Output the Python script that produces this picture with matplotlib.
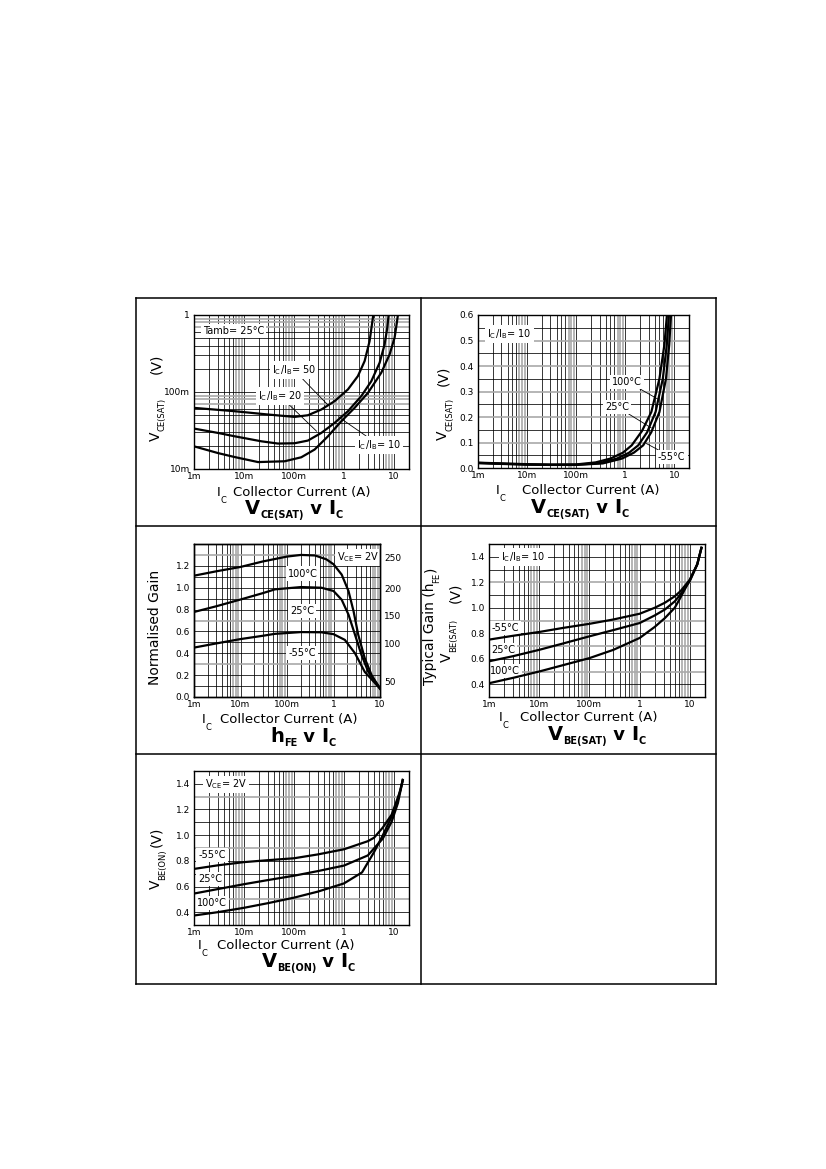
import matplotlib
matplotlib.use('Agg')
import matplotlib.pyplot as plt
from matplotlib.lines import Line2D
from matplotlib.ticker import NullLocator

# ---- data ----
# VCE(SAT) v IC, log-log, Tamb = 25C
vsat50_ic = [0.001, 0.0065, 0.0302, 0.103, 0.19, 0.352, 0.65, 1.2, 1.9, 2.59, 3.26, 3.63, 3.86]
vsat50_v = [0.0622, 0.0563, 0.051, 0.0475, 0.0499, 0.0592, 0.076, 0.108, 0.161, 0.252, 0.459, 0.756, 1.0]
vsat20_ic = [0.001, 0.00302, 0.0065, 0.0222, 0.0479, 0.103, 0.19, 0.352, 0.65, 1.2, 2.22, 3.52, 5.17, 6.5, 7.36, 7.82]
vsat20_v = [0.0335, 0.0294, 0.0266, 0.0229, 0.0214, 0.0216, 0.0234, 0.0294, 0.0397, 0.0563, 0.0883, 0.138, 0.24, 0.415, 0.684, 1.0]
vsat10_ic = [0.001, 0.00302, 0.0065, 0.0191, 0.065, 0.14, 0.259, 0.479, 0.885, 1.63, 3.02, 5.58, 8.19, 10.3, 11.3, 12.0]
vsat10_v = [0.0197, 0.0161, 0.0143, 0.0123, 0.0126, 0.0142, 0.0179, 0.0266, 0.0417, 0.0622, 0.0975, 0.178, 0.308, 0.507, 0.756, 1.0]

# VCE(SAT) v IC, linear, IC/IB = 10
vt100_ic = [0.001, 0.003, 0.01, 0.03, 0.1, 0.25, 0.5, 0.9, 1.36, 2.2, 3.42, 5.0, 6.3, 7.1]
vt100_v = [0.021, 0.018, 0.015, 0.013, 0.014, 0.022, 0.037, 0.06, 0.089, 0.145, 0.22, 0.351, 0.483, 0.6]
vt25_ic = [0.001, 0.003, 0.01, 0.03, 0.1, 0.3, 0.68, 1.2, 1.85, 2.8, 4.17, 5.86, 7.05, 7.8]
vt25_v = [0.02, 0.017, 0.014, 0.013, 0.013, 0.019, 0.037, 0.06, 0.089, 0.14, 0.22, 0.351, 0.483, 0.6]
vtm55_ic = [0.001, 0.003, 0.01, 0.03, 0.1, 0.35, 0.86, 1.5, 2.33, 3.4, 5.0, 6.8, 7.9, 8.6]
vtm55_v = [0.019, 0.016, 0.013, 0.012, 0.012, 0.018, 0.037, 0.06, 0.089, 0.14, 0.22, 0.351, 0.483, 0.6]

# hFE v IC (normalised gain)
h100_ic = [0.001, 0.003, 0.01, 0.03, 0.1, 0.2, 0.4, 0.7, 1.0, 1.5, 2.1, 2.7, 3.4, 4.7, 6.6, 10]
h100 = [1.11, 1.15, 1.19, 1.24, 1.285, 1.30, 1.295, 1.26, 1.215, 1.12, 0.97, 0.785, 0.57, 0.355, 0.2, 0.075]
h25_ic = [0.001, 0.003, 0.01, 0.03, 0.055, 0.2, 0.55, 1.0, 1.5, 2.1, 2.9, 4.0, 5.6, 10]
h25 = [0.778, 0.83, 0.892, 0.95, 0.985, 1.006, 1.0, 0.97, 0.89, 0.754, 0.57, 0.385, 0.23, 0.083]
hm55_ic = [0.001, 0.003, 0.01, 0.03, 0.055, 0.2, 0.55, 1.0, 1.75, 2.9, 4.7, 10]
hm55 = [0.452, 0.49, 0.53, 0.56, 0.578, 0.594, 0.592, 0.575, 0.523, 0.40, 0.23, 0.077]
hfe_labels = ['250', '200', '150', '100', '50']
hfe_at = [1.277, 0.994, 0.748, 0.492, 0.138]

# VBE(SAT) v IC
bs_ic = [0.001, 0.003, 0.01, 0.03, 0.1, 0.3, 1, 2, 3.2, 5, 6.5, 10, 14, 17]
bs_m55 = [0.75, 0.78, 0.81, 0.842, 0.874, 0.908, 0.953, 1.0, 1.04, 1.09, 1.13, 1.22, 1.34, 1.47]
bs_25 = [0.58, 0.62, 0.67, 0.72, 0.776, 0.825, 0.88, 0.94, 0.987, 1.05, 1.105, 1.21, 1.34, 1.47]
bs_100 = [0.408, 0.45, 0.50, 0.55, 0.605, 0.67, 0.763, 0.85, 0.92, 1.0, 1.08, 1.22, 1.34, 1.47]

# VBE(ON) v IC, VCE = 2V
on_m55_ic = [0.001, 0.003, 0.01, 0.03, 0.1, 0.3, 1, 3, 4, 6, 9, 13.5, 15]
on_m55 = [0.737, 0.765, 0.79, 0.805, 0.82, 0.85, 0.89, 0.953, 0.98, 1.06, 1.16, 1.35, 1.43]
on_25_ic = [0.001, 0.003, 0.01, 0.03, 0.1, 0.3, 1, 3, 6, 9, 12, 15]
on_25 = [0.545, 0.58, 0.618, 0.65, 0.684, 0.72, 0.763, 0.842, 0.974, 1.105, 1.25, 1.43]
on_100_ic = [0.001, 0.003, 0.01, 0.03, 0.1, 0.3, 1, 2.3, 4, 6, 9, 12, 15]
on_100 = [0.374, 0.40, 0.434, 0.47, 0.513, 0.56, 0.624, 0.71, 0.868, 1.0, 1.145, 1.28, 1.43]

dec_ticks = [0.001, 0.01, 0.1, 1, 10]
dec_labels = ['1m', '10m', '100m', '1', '10']

W, H = 826, 1169
GRAY = '#a9a9a9'
fig = plt.figure(figsize=(W / 100, H / 100), dpi=100)
rend = fig.canvas.get_renderer()


def fx(px):
    return px / W


def fy(py):
    return 1 - py / H


def new_axes(l, t, r, b):
    return fig.add_axes([l / W, 1 - b / H, (r - l) / W, (b - t) / H])


def log_lines(ax, lo, hi, axis='x'):
    for e in range(-3, 2):
        for m in range(1, 10):
            v = m * 10.0 ** e
            if lo < v < hi:
                light = m >= 7
                kw = dict(color=GRAY if light else 'black', lw=1.2 if light else 0.55, zorder=1)
                if axis == 'x':
                    ax.axvline(v, **kw)
                else:
                    ax.axhline(v, **kw)


def lin_lines(ax, vals, grays):
    for v in vals:
        light = any(abs(v - g) < 1e-6 for g in grays)
        ax.axhline(v, color=GRAY if light else 'black', lw=1.2 if light else 0.55, zorder=1)


def style(ax, xlim):
    ax.set_xscale('log')
    ax.set_xlim(xlim)
    ax.set_xticks(dec_ticks)
    ax.set_xticklabels(dec_labels)
    ax.xaxis.set_minor_locator(NullLocator())
    ax.tick_params(length=0, labelsize=6.5, pad=2)
    ax.tick_params(axis='y', pad=3)
    for s in ax.spines.values():
        s.set_linewidth(1.0)
        s.set_zorder(5)
    log_lines(ax, xlim[0], xlim[1], 'x')


def tag(ax, x, y, s, xy=None):
    box = dict(fc='white', ec='none', pad=1.5)
    if xy is None:
        ax.text(x, y, s, fontsize=7, ha='left', va='center', zorder=2.5, bbox=box)
    else:
        ax.annotate(s, xy=xy, xytext=(x, y), fontsize=7, ha='left', va='center', zorder=2.5,
                    bbox=box, arrowprops=dict(arrowstyle='-', lw=0.6, color='black',
                                              shrinkA=0, shrinkB=0))


def chain(px, py, parts, rot=False, weight='normal'):
    for s, size, off in parts:
        if rot:
            t = fig.text(fx(px + off), fy(py), s, fontsize=size, weight=weight, rotation=90,
                         rotation_mode='anchor', ha='left', va='baseline')
            py -= t.get_window_extent(rend).height
        else:
            t = fig.text(fx(px), fy(py + off), s, fontsize=size, weight=weight,
                         ha='left', va='baseline')
            px += t.get_window_extent(rend).width


def xlab(ipx, cpx, py):
    chain(ipx, py, [('I', 9.5, 0), ('C', 6, 7)])
    fig.text(fx(cpx), fy(py), 'Collector Current (A)', fontsize=9.5, ha='left', va='baseline')


def title(px, py, big, sub):
    chain(px, py, [(big, 14, 0), (sub, 7, 4), (' v ', 13, 0), ('I', 14, 0), ('C', 7, 4)],
          weight='bold')


curve = dict(color='black', lw=1.6, zorder=3)

# ---- panel 1 ----
ax1 = new_axes(194, 315, 409, 469)
style(ax1, (0.001, 20))
ax1.set_yscale('log')
ax1.set_ylim(0.01, 1)
ax1.set_yticks([0.01, 0.1, 1])
ax1.set_yticklabels(['10m', '100m', '1'])
ax1.yaxis.set_minor_locator(NullLocator())
log_lines(ax1, 0.01, 1, 'y')
ax1.plot(vsat50_ic, vsat50_v, **curve)
ax1.plot(vsat20_ic, vsat20_v, **curve)
ax1.plot(vsat10_ic, vsat10_v, **curve)
tag(ax1, 0.0015, 0.62, 'Tamb= 25°C')
tag(ax1, 0.036, 0.193, r'I$_\mathregular{C}$/I$_\mathregular{B}$= 50', xy=(0.485, 0.0672))
tag(ax1, 0.019, 0.0887, r'I$_\mathregular{C}$/I$_\mathregular{B}$= 20', xy=(0.284, 0.0309))
tag(ax1, 1.82, 0.0205, r'I$_\mathregular{C}$/I$_\mathregular{B}$= 10', xy=(0.77, 0.0477))

# ---- panel 2 ----
ax2 = new_axes(478, 315, 689, 468)
style(ax2, (0.001, 20))
ax2.set_ylim(0, 0.6)
ax2.set_yticks([0, 0.1, 0.2, 0.3, 0.4, 0.5, 0.6])
ax2.set_yticklabels(['0.0', '0.1', '0.2', '0.3', '0.4', '0.5', '0.6'])
lin_lines(ax2, [0.05, 0.1, 0.15, 0.2, 0.25, 0.3, 0.35, 0.4, 0.45, 0.5, 0.55],
          [0.1, 0.2, 0.3, 0.4, 0.5])
ax2.plot(vt100_ic, vt100_v, **curve)
ax2.plot(vt25_ic, vt25_v, **curve)
ax2.plot(vtm55_ic, vtm55_v, **curve)
tag(ax2, 0.00156, 0.524, r'I$_\mathregular{C}$/I$_\mathregular{B}$= 10')
tag(ax2, 0.54, 0.339, '100°C', xy=(4.66, 0.27))
tag(ax2, 0.39, 0.24, '25°C', xy=(3.42, 0.157))
tag(ax2, 4.66, 0.043, '-55°C', xy=(2.7, 0.096))

# ---- panel 3 ----
ax3 = new_axes(194, 544, 380, 697)
style(ax3, (0.001, 10))
ax3.set_ylim(0, 1.4)
ax3.set_yticks([0, 0.2, 0.4, 0.6, 0.8, 1.0, 1.2])
ax3.set_yticklabels(['0.0', '0.2', '0.4', '0.6', '0.8', '1.0', '1.2'])
lin_lines(ax3, [0.1, 0.2, 0.3, 0.4, 0.5, 0.6, 0.7, 0.8, 0.9, 1.0, 1.1, 1.2, 1.3],
          [0.3, 0.7, 1.3])
ax3.plot(h100_ic, h100, **curve)
ax3.plot(h25_ic, h25, **curve)
ax3.plot(hm55_ic, hm55, **curve)
tag(ax3, 1.17, 1.277, r'V$_\mathregular{CE}$= 2V')
tag(ax3, 0.107, 1.13, '100°C')
tag(ax3, 0.116, 0.79, '25°C')
tag(ax3, 0.107, 0.40, '-55°C')
ax3r = ax3.twinx()
ax3r.set_ylim(0, 1.4)
ax3r.set_yticks(hfe_at)
ax3r.set_yticklabels(hfe_labels)
ax3r.tick_params(length=0, labelsize=6.5, pad=3)
for s in ax3r.spines.values():
    s.set_linewidth(1.0)

# ---- panel 4 ----
ax4 = new_axes(489, 544, 705, 697)
style(ax4, (0.001, 20))
ax4.set_ylim(0.3, 1.5)
ax4.set_yticks([0.4, 0.6, 0.8, 1.0, 1.2, 1.4])
ax4.set_yticklabels(['0.4', '0.6', '0.8', '1.0', '1.2', '1.4'])
lin_lines(ax4, [0.4, 0.5, 0.6, 0.7, 0.8, 0.9, 1.0, 1.1, 1.2, 1.3, 1.4], [0.5, 0.7, 0.9, 1.2])
ax4.plot(bs_ic, bs_m55, **curve)
ax4.plot(bs_ic, bs_25, **curve)
ax4.plot(bs_ic, bs_100, **curve)
tag(ax4, 0.00177, 1.395, r'I$_\mathregular{C}$/I$_\mathregular{B}$= 10')
tag(ax4, 0.00111, 0.842, '-55°C')
tag(ax4, 0.00111, 0.671, '25°C')
tag(ax4, 0.00105, 0.505, '100°C')

# ---- panel 5 ----
ax5 = new_axes(194, 771, 409, 925)
style(ax5, (0.001, 20))
ax5.set_ylim(0.3, 1.5)
ax5.set_yticks([0.4, 0.6, 0.8, 1.0, 1.2, 1.4])
ax5.set_yticklabels(['0.4', '0.6', '0.8', '1.0', '1.2', '1.4'])
lin_lines(ax5, [0.4, 0.5, 0.6, 0.7, 0.8, 0.9, 1.0, 1.1, 1.2, 1.3, 1.4], [0.5, 0.9, 1.3])
ax5.plot(on_m55_ic, on_m55, **curve)
ax5.plot(on_25_ic, on_25, **curve)
ax5.plot(on_100_ic, on_100, **curve)
tag(ax5, 0.00166, 1.395, r'V$_\mathregular{CE}$= 2V')
tag(ax5, 0.00122, 0.847, '-55°C')
tag(ax5, 0.00122, 0.658, '25°C')
tag(ax5, 0.00115, 0.468, '100°C')

# ---- axis labels ----
xlab(217, 233, 496)
xlab(496, 522, 494)
xlab(202, 220, 723)
xlab(499, 520, 721)
xlab(198, 217, 949)

chain(160, 441, [('V', 10, 0), ('CE(SAT)', 6, 5)], rot=True)
fig.text(fx(160), fy(374), '(V)', fontsize=10, rotation=90, rotation_mode='anchor',
         ha='left', va='baseline')
chain(447, 440, [('V', 10, 0), ('CE(SAT)', 6, 5)], rot=True)
fig.text(fx(447), fy(386), '(V)', fontsize=10, rotation=90, rotation_mode='anchor',
         ha='left', va='baseline')
fig.text(fx(159), fy(685), 'Normalised Gain', fontsize=10, rotation=90,
         rotation_mode='anchor', ha='left', va='baseline')
chain(434, 685, [('Typical Gain (h', 10, 0), ('FE', 6, 5), (')', 10, 0)], rot=True)
chain(451, 662, [('V', 10, 0), ('BE(SAT)', 6, 5)], rot=True)
fig.text(fx(459), fy(603), '(V)', fontsize=10, rotation=90, rotation_mode='anchor',
         ha='left', va='baseline')
chain(160, 889, [('V', 10, 0), ('BE(ON)', 6, 5)], rot=True)
fig.text(fx(160), fy(847), '(V)', fontsize=10, rotation=90, rotation_mode='anchor',
         ha='left', va='baseline')

# ---- panel titles ----
title(245, 514, 'V', 'CE(SAT)')
title(531, 513, 'V', 'CE(SAT)')
title(270, 742, 'h', 'FE')
title(548, 740, 'V', 'BE(SAT)')
title(262, 967, 'V', 'BE(ON)')

# ---- outer frame ----
frame = [((136, 716), (298, 298)), ((136, 716), (984, 984)), ((136, 136), (298, 984)),
         ((716, 716), (298, 984)), ((421, 421), (298, 984)), ((136, 716), (526, 526)),
         ((136, 716), (754, 754))]
for xs, ys in frame:
    fig.add_artist(Line2D([fx(xs[0]), fx(xs[1])], [fy(ys[0]), fy(ys[1])],
                          transform=fig.transFigure, color='black', lw=1.1))

fig.savefig('out.png', dpi=100)
